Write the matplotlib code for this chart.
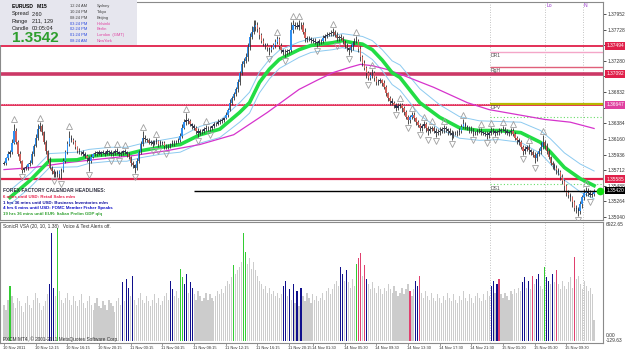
import matplotlib
matplotlib.use('Agg')
import matplotlib.pyplot as plt
from matplotlib import font_manager
from matplotlib.patches import Rectangle
import matplotlib.transforms as mtransforms
import numpy as np

# MT4 uses tiny narrow pixel fonts, take the narrow face when there is one
try:
    font_manager.findfont('Liberation Sans Narrow', fallback_to_default=False)
    NARROW = True
except ValueError:
    NARROW = False
FAM = ['Liberation Sans Narrow', 'Liberation Sans', 'DejaVu Sans'] if NARROW else ['Liberation Sans', 'DejaVu Sans']
plt.rcParams['font.family'] = FAM


def fs(size):
    return size / 0.82 if NARROW else size


# prices are stored in pips above 1.3500
BASE = 1.35
first_open = 80

close_pips = [
    82, 88, 94, 97, 110, 128, 112, 95, 84, 72,
    74, 76, 80, 82, 95, 106, 118, 130, 134, 126,
    112, 98, 86, 75, 70, 65, 68, 66, 70, 72,
    84, 97, 108, 118, 115, 111, 104, 99, 97, 97,
    95, 92, 88, 85, 90, 94, 96, 97, 95, 97,
    96, 95, 98, 97, 94, 96, 99, 97, 95, 96,
    98, 97, 94, 90, 82, 78, 75, 84, 97, 108,
    118, 116, 114, 110, 112, 109, 111, 113, 108, 111,
    110, 106, 104, 106, 108, 110, 111, 112, 114, 120,
    132, 140, 143, 141, 137, 134, 132, 128, 125, 127,
    128, 130, 132, 131, 132, 134, 137, 138, 140, 141,
    143, 146, 151, 158, 168, 174, 180, 188, 197, 210,
    223, 228, 233, 248, 262, 270, 276, 280, 273, 265,
    257, 252, 250, 246, 243, 247, 251, 255, 259, 250,
    243, 241, 240, 242, 243, 272, 280, 278, 276, 279,
    280, 270, 261, 259, 260, 258, 257, 255, 254, 256,
    257, 261, 264, 265, 266, 268, 269, 265, 261, 262,
    261, 256, 251, 246, 243, 248, 254, 256, 257, 245,
    233, 225, 218, 210, 204, 208, 211, 204, 197, 199,
    200, 196, 190, 182, 175, 171, 168, 164, 161, 163,
    165, 160, 154, 148, 143, 147, 151, 146, 140, 136,
    132, 134, 137, 132, 128, 130, 132, 128, 125, 126,
    128, 130, 132, 130, 128, 125, 122, 124, 125, 126,
    128, 133, 137, 134, 132, 130, 128, 126, 125, 127,
    128, 126, 125, 123, 122, 125, 128, 127, 125, 126,
    128, 129, 129, 127, 125, 126, 128, 123, 118, 114,
    111, 105, 99, 101, 104, 100, 97, 93, 89, 94,
    99, 105, 111, 106, 99, 90, 82, 78, 75, 71,
    68, 62, 56, 48, 39, 35, 32, 25, 17, 15,
    13, 22, 32, 38, 42, 39, 36, 37, 42,
]

up_wick = [
    3, 2, 4, 3, 6, 10, 3, 2, 3, 2,
    2, 3, 2, 4, 3, 2, 5, 8, 6, 3,
    2, 3, 2, 4, 2, 3, 2, 3, 2, 3,
    4, 3, 5, 10, 3, 2, 3, 2, 4, 2,
    3, 2, 2, 3, 4, 2, 3, 2, 3, 2,
    3, 2, 4, 2, 3, 2, 3, 4, 2, 3,
    2, 3, 2, 3, 2, 3, 2, 4, 3, 5,
    9, 3, 2, 4, 3, 2, 3, 4, 2, 3,
    2, 3, 2, 3, 2, 4, 3, 2, 3, 5,
    6, 5, 10, 3, 4, 2, 3, 2, 4, 3,
    2, 3, 4, 2, 3, 2, 3, 2, 4, 3,
    3, 2, 4, 3, 5, 3, 4, 3, 5, 4,
    5, 4, 6, 5, 6, 8, 10, 6, 4, 3,
    3, 4, 2, 3, 2, 4, 3, 5, 4, 3,
    3, 2, 4, 3, 2, 12, 6, 4, 5, 8,
    4, 3, 5, 3, 4, 2, 3, 4, 2, 3,
    3, 4, 3, 5, 3, 4, 6, 3, 4, 3,
    4, 3, 2, 3, 2, 4, 3, 5, 6, 3,
    4, 3, 4, 2, 3, 4, 5, 3, 2, 3,
    3, 2, 4, 3, 2, 3, 4, 2, 3, 4,
    3, 2, 3, 4, 2, 3, 4, 3, 2, 3,
    3, 4, 5, 3, 2, 4, 3, 2, 3, 4,
    5, 3, 4, 3, 2, 3, 4, 3, 2, 3,
    4, 5, 8, 3, 2, 3, 4, 3, 2, 3,
    3, 4, 2, 3, 4, 3, 5, 3, 2, 3,
    4, 3, 5, 4, 3, 2, 3, 4, 3, 2,
    3, 4, 2, 5, 3, 4, 2, 3, 4, 3,
    4, 6, 10, 3, 4, 3, 2, 3, 4, 3,
    3, 4, 3, 2, 3, 4, 3, 2, 3, 4,
    3, 5, 4, 6, 5, 3, 4, 3, 2,
]

dn_wick = [
    2, 3, 2, 4, 3, 2, 3, 4, 3, 5,
    3, 2, 4, 3, 2, 3, 2, 3, 2, 4,
    3, 4, 3, 2, 5, 4, 3, 4, 6, 12,
    3, 2, 3, 2, 4, 3, 2, 3, 2, 4,
    3, 4, 5, 15, 3, 2, 3, 4, 2, 3,
    2, 3, 2, 4, 3, 2, 3, 2, 4, 3,
    3, 2, 4, 3, 5, 4, 8, 3, 2, 3,
    2, 4, 3, 2, 3, 4, 2, 3, 4, 2,
    3, 4, 3, 2, 3, 2, 4, 3, 2, 3,
    3, 2, 4, 3, 2, 4, 3, 5, 6, 3,
    4, 3, 2, 3, 4, 3, 2, 3, 2, 3,
    2, 3, 2, 3, 2, 3, 2, 3, 4, 3,
    3, 4, 3, 5, 4, 3, 4, 5, 3, 6,
    4, 3, 5, 4, 7, 3, 2, 4, 3, 5,
    4, 5, 6, 3, 4, 3, 4, 5, 3, 4,
    5, 4, 6, 4, 3, 5, 4, 3, 6, 3,
    4, 3, 4, 3, 2, 3, 4, 3, 5, 4,
    3, 4, 5, 4, 6, 3, 4, 3, 2, 4,
    5, 4, 3, 6, 4, 3, 4, 5, 3, 4,
    3, 4, 3, 5, 4, 6, 4, 3, 5, 4,
    3, 5, 4, 3, 6, 4, 3, 5, 4, 3,
    5, 4, 3, 6, 7, 4, 3, 4, 6, 3,
    4, 3, 5, 4, 6, 3, 8, 4, 3, 5,
    4, 3, 2, 4, 3, 5, 4, 6, 3, 4,
    3, 5, 4, 3, 6, 4, 3, 4, 5, 3,
    4, 3, 2, 4, 3, 5, 4, 3, 4, 5,
    4, 3, 6, 4, 3, 5, 4, 3, 8, 4,
    3, 4, 3, 5, 4, 3, 4, 5, 4, 6,
    4, 5, 4, 6, 5, 4, 5, 6, 4, 5,
    7, 4, 5, 3, 4, 5, 4, 3, 3,
]

volume = [
    2100, 1800, 2400, 3200, 2600, 2200, 1900, 2500, 2300, 2000,
    1700, 2200, 2600, 2100, 1900, 2400, 2800, 2500, 2200, 1800,
    2000, 2300, 2700, 3300, 6300, 3100, 2600, 6600, 2900, 2400,
    2200, 2500, 2800, 2400, 2100, 2600, 2300, 2000, 2400, 2700,
    2200, 1900, 2300, 2600, 2100, 1800, 2200, 2500, 2000, 1900,
    2300, 2100, 1800, 2400, 2200, 2000, 1700, 2300, 2500, 2100,
    3400, 2300, 3600, 3100, 2600, 3800, 2400, 2100, 2500, 2800,
    2400, 2200, 2600, 2300, 2000, 2400, 2700, 2200, 2500, 2100,
    2300, 2600, 2800, 2400, 3500, 3000, 2600, 2900, 2500, 4200,
    3700, 3300, 3900, 2800, 3400, 3100, 2700, 2400, 2900, 2600,
    2300, 2500, 2800, 2400, 2700, 2500, 2300, 2600, 2900, 2700,
    3000, 2800, 3200, 3500, 3300, 3700, 4400, 3900, 4100, 4300,
    4600, 6300, 5200, 4500, 4800, 4200, 4600, 4100, 3800, 3500,
    3300, 3000, 3200, 2800, 3100, 2700, 2900, 2600, 2800, 2500,
    2700, 3200, 3500, 2600, 3000, 2400, 3300, 2200, 2900, 2000,
    3100, 2600, 2300, 2800, 2500, 2200, 2700, 2400, 2600, 2300,
    2500, 2800, 2400, 2900, 3100, 2700, 3000, 3300, 3500, 3200,
    4300, 3900, 3500, 4100, 3400, 3100, 3600, 3200, 4500, 4800,
    5100, 3800, 4400, 3600, 3300, 3000, 3400, 3100, 2800, 3200,
    3000, 2700, 3100, 2900, 3300, 3000, 2800, 3200, 2900, 2600,
    2800, 3100, 2700, 3000, 3300, 2900, 2600, 3000, 3500, 3200,
    3800, 2800, 2500, 2900, 2600, 2400, 2800, 2500, 2300, 2700,
    2500, 2200, 2600, 2400, 2800, 2500, 2300, 2700, 2400, 2200,
    2600, 2400, 2900, 2500, 2300, 2700, 2500, 2200, 2600, 2800,
    2500, 2300, 2700, 2400, 2900, 2600, 3200, 3500, 2800, 3300,
    3600, 2700, 2500, 2800, 2600, 2400, 2900, 2700, 3000, 2800,
    3100, 2900, 3400, 3700, 3100, 3500, 3000, 3800, 3300, 3600,
    3900, 3200, 3000, 4300, 3700, 3500, 3300, 3900, 3400, 4100,
    3300, 3000, 3500, 3200, 3000, 3400, 3700, 3100, 4900, 3600,
    3800, 3300, 3000, 3500, 3200, 2900, 3100, 2700, 1200,
]

vol_navy = [23, 24, 25, 60, 62, 63, 65, 84, 85, 91, 92, 94, 95, 141, 142, 144, 146, 148,
            150, 170, 171, 173, 183, 208, 209, 246, 247, 249, 262, 263, 265, 269, 270,
            274, 275, 277]
vol_green = [3, 27, 89, 90, 116, 121, 122, 178, 273]
vol_red = [179, 180, 182, 205, 210, 250, 267, 279, 288]

# green moving average with its two blue bands (bar index, pips)
ma_idx = [3, 13, 23, 37, 43, 54, 62, 69, 79, 89, 99, 109, 119, 124, 129, 134, 139, 144, 149,
          155, 160, 166, 171, 176, 181, 186, 191, 196, 200, 210, 220, 230, 240, 250, 261,
          271, 276, 283, 291, 298]
ma_green = [32, 56, 85, 86, 91, 94, 94, 99, 104, 108, 122, 130, 154, 168, 197, 216, 230, 237, 244,
            250, 252, 254, 257, 254, 252, 244, 229, 211, 204, 168, 147, 132, 128, 128, 125,
            111, 97, 75, 59, 49]
band_upper = [42, 66, 95, 97, 101, 104, 104, 109, 114, 119, 134, 142, 168, 183, 212, 230, 243, 249,
              255, 260, 262, 264, 267, 265, 263, 257, 244, 228, 222, 188, 165, 148, 142, 141,
              140, 128, 116, 96, 80, 70]
band_lower = [22, 46, 75, 76, 81, 84, 84, 89, 94, 97, 110, 118, 140, 153, 182, 202, 217, 225, 233,
              240, 242, 244, 247, 243, 240, 230, 214, 194, 186, 150, 130, 117, 114, 115, 111,
              95, 80, 57, 40, 30]
# slow magenta average
slow_idx = [0, 15, 32, 48, 65, 82, 99, 116, 133, 149, 158, 166, 175, 180, 186, 193, 200, 217,
            234, 245, 261, 273, 286, 298]
ma_slow = [72, 75, 82, 87, 92, 99, 108, 122, 154, 187, 200, 211, 219, 223, 221, 216, 209, 190,
           168, 158, 150, 144, 140, 131]

level_prices = [1.37494, 1.37092, 1.36647, 1.35585]
level_labels = ['1.37494', '1.37092', '1.36647', '1.35585']
pivot_prices = [1.37407, 1.37192, 1.36661, 1.35499]
pivot_names = ['DR1', 'RgH', 'DPV', 'DS1']
green_dotted = [1.36475, 1.35520]
last_price = 1.3542
last_label = '1.35420'

price_ticks = [1.35040, 1.35264, 1.35488, 1.35712, 1.35936, 1.36160, 1.36384,
               1.36608, 1.36832, 1.37056, 1.37280, 1.37504, 1.37728, 1.37952]
time_idx = [0, 16, 32, 48, 64, 80, 96, 112, 128, 144, 156, 172, 188, 204, 220, 236, 252, 268, 284]
time_labels = ['10 Nov 2011', '10 Nov 12:15', '10 Nov 16:15', '10 Nov 20:15', '11 Nov 00:15',
               '11 Nov 04:15', '11 Nov 08:15', '11 Nov 12:15', '11 Nov 16:15', '11 Nov 20:15',
               '14 Nov 01:30', '14 Nov 05:30', '14 Nov 09:30', '14 Nov 13:30', '14 Nov 17:30',
               '14 Nov 21:30', '15 Nov 01:30', '15 Nov 05:30', '15 Nov 09:30']
session_idx = [245.5, 273.2, 292.4]

clock_times = ['12:24 AM', '10:24 PM', '08:24 PM', '03:24 PM', '02:24 PM', '01:24 PM', '08:24 AM']
clock_cities = ['Sydney', 'Tokyo', 'Beijing', 'Helsinki', 'Berlin', 'London  (GMT)', 'NewYork']
headlines = ['6 mins until USD: Retail Sales m/m',
             '1 hrs 36 mins until USD: Business Inventories m/m',
             '4 hrs 6 mins until USD: FOMC Member Fisher Speaks',
             '19 hrs 36 mins until EUR: Italian Prelim GDP q/q']
headline_colors = ['#e8204a', '#1010a0', '#1010c8', '#30a030']

W, H = 625, 352


def fx(px):
    return px / W


def fy(py):
    return 1 - py / H


fig = plt.figure(figsize=(W / 100, H / 100), dpi=100)
fig.patch.set_facecolor('white')

ax = fig.add_axes([0, fy(220), fx(603), 218 / H])
axv = fig.add_axes([0, fy(343), fx(603), 121 / H])

n = len(close_pips)
x = np.arange(n)
close = BASE + np.array(close_pips) / 1e4
opn = BASE + np.array([first_open] + close_pips[:-1]) / 1e4
high = np.maximum(opn, close) + np.array(up_wick) / 1e4
low = np.minimum(opn, close) - np.array(dn_wick) / 1e4

xlim = (-2.02, 302.5)
for a in (ax, axv):
    a.set_xlim(*xlim)
    a.set_xticks([])
    for s in a.spines.values():
        s.set_color('#8a8a8a')
        s.set_linewidth(0.8)
ax.set_ylim(1.34997, 1.38124)

# horizontal levels, full width
ax.axhline(level_prices[0], color='#e0204a', lw=1.3, zorder=1)
ax.axhline(level_prices[1], color='#cc3866', lw=2.6, zorder=1)
ax.axhline(level_prices[2], color='#e0204a', lw=1.3, zorder=1)
ax.axhline(level_prices[2] + 0.00010, color='#f090b0', lw=0.8, ls=(0, (1, 1)), zorder=1)
ax.axhline(level_prices[3], color='#e0204a', lw=1.6, zorder=1)

# pivot lines on the last session
p0 = session_idx[0]
ax.hlines(pivot_prices[0], p0, xlim[1], color='#f4a6c8', lw=1.0, zorder=1)
ax.hlines(pivot_prices[1], p0, xlim[1], color='#e0607a', lw=1.0, zorder=1)
ax.hlines(pivot_prices[2], p0, xlim[1], color='#b8b800', lw=1.6, zorder=1)
for p in green_dotted:
    ax.hlines(p, p0, xlim[1], color='#66dd66', lw=0.8, ls=(0, (1, 2)), zorder=1)
for name, p in zip(pivot_names, pivot_prices):
    ax.text(p0 + 0.5, p - 0.00012, name, fontsize=fs(3.6), color='#505050', va='top', ha='left')

for xi in session_idx:
    ax.axvline(xi, color='#b0b0b0', lw=0.6, ls=(0, (1, 2)), zorder=0)
    axv.axvline(xi, color='#b0b0b0', lw=0.6, ls=(0, (1, 2)), zorder=0)
ax.text(session_idx[1] + 1, 1.3807, 'Lo', fontsize=fs(3.6), color='#9933cc', va='center')
ax.text(session_idx[2] + 0.5, 1.3807, 'N', fontsize=fs(3.6), color='#9933cc', va='center')

# averages
ax.plot(ma_idx, BASE + np.array(band_upper) / 1e4, color='#8ccaf0', lw=0.7, zorder=2)
ax.plot(ma_idx, BASE + np.array(band_lower) / 1e4, color='#8ccaf0', lw=0.7, zorder=2)
ax.plot(slow_idx, BASE + np.array(ma_slow) / 1e4, color='#d633cc', lw=0.9, zorder=2)
ax.plot(ma_idx, BASE + np.array(ma_green) / 1e4, color='#22dd44', lw=2.6, zorder=2)

# candles
body = close - opn
colors = np.where(np.abs(body) < 0.00035, '#2e3450', np.where(body > 0, '#2f8ff0', '#d0605a'))
ax.vlines(x, low, high, color='#303030', lw=0.6, zorder=3)
ax.bar(x, np.where(np.abs(body) < 0.00005, 0.00005, np.abs(body)), bottom=np.minimum(opn, close),
       width=0.75, color=colors, linewidth=0, zorder=4)

# fractals
up_f = [i for i in range(2, n - 2) if high[i] > max(high[i - 2], high[i - 1], high[i + 1], high[i + 2])]
dn_f = [i for i in range(2, n - 2) if low[i] < min(low[i - 2], low[i - 1], low[i + 1], low[i + 2])]
ax.plot(up_f, high[up_f] + 0.0006, ls='none', marker='^', ms=3.8, mfc='none', mec='#a0a0a0', mew=0.6, zorder=5)
ax.plot(dn_f, low[dn_f] - 0.0006, ls='none', marker='v', ms=3.8, mfc='none', mec='#a0a0a0', mew=0.6, zorder=5)

# last price
ax.hlines(last_price, 96, xlim[1], color='black', lw=1.0, zorder=5)
ax.plot([301], [last_price], 'o', color='#11dd11', ms=4.5, zorder=6, clip_on=False)

# price axis, labels hidden under the level boxes are left blank
box_prices = level_prices + [last_price]
ax.yaxis.tick_right()
ax.set_yticks(price_ticks)
ax.set_yticklabels(['' if min(abs(t - b) for b in box_prices) < 0.0004 else '%.5f' % t
                    for t in price_ticks])
ax.tick_params(axis='y', labelsize=fs(3.5), length=2, width=0.6, pad=1.2, colors='#333333')
tr = mtransforms.blended_transform_factory(ax.transAxes, ax.transData)
box_colors = ['#e0204a', '#e0204a', '#e040a0', '#e0204a']
for p, lab, c in zip(level_prices, level_labels, box_colors):
    ax.text(1.006, p, lab, transform=tr, fontsize=fs(3.5), color='white', va='center', ha='left',
            bbox=dict(facecolor=c, edgecolor='none', pad=0.9), clip_on=False, zorder=10)
ax.text(1.006, last_price, last_label, transform=tr, fontsize=fs(3.5), color='white', va='center',
        ha='left', bbox=dict(facecolor='black', edgecolor='none', pad=0.9), clip_on=False, zorder=10)

# volume panel
vcol = ['#cccccc'] * n
for i in vol_navy:
    vcol[i] = '#10108c'
for i in vol_green:
    vcol[i] = '#33cc33'
for i in vol_red:
    vcol[i] = '#e0406e'
axv.bar(x, volume, width=0.6, color=vcol, linewidth=0)
axv.set_ylim(-129.63, 6922.65)
axv.set_yticks([])
fig.text(fx(606), fy(224), '6922.65', fontsize=fs(3.5), color='#333333', va='center')
fig.text(fx(606), fy(335.5), '0.00', fontsize=fs(3.5), color='#333333', va='center')
fig.text(fx(606), fy(340.5), '-129.63', fontsize=fs(3.5), color='#333333', va='center')
fig.text(fx(3), fy(226.5), 'SonicR VSA (20, 10, 1.38)   Voice & Text Alerts off.', fontsize=fs(3.4),
         color='#303030', va='center')
fig.text(fx(3), fy(339.5), 'PXCM MT4, \u00a9 2001-2011 MetaQuotes Software Corp.', fontsize=fs(3.4),
         color='#303030', va='center')

for i, lab in zip(time_idx, time_labels):
    px = 4 + 1.98 * i
    fig.text(fx(px - 1), fy(348), lab, fontsize=fs(2.9), color='#333333', va='center', ha='left')
    fig.add_artist(plt.Line2D([fx(px), fx(px)], [fy(343), fy(345)], color='#8a8a8a', lw=0.6))

# headlines
fig.text(fx(3), fy(190), 'FOREX FACTORY CALENDAR HEADLINES:', fontsize=fs(3.5), fontweight='bold',
         color='#303040', va='center')
for k, (t, c) in enumerate(zip(headlines, headline_colors)):
    fig.text(fx(3), fy(196.7 + 5.85 * k), t, fontsize=fs(3.2), fontweight='bold', color=c, va='center')

# info box
fig.add_artist(Rectangle((0, fy(45)), fx(137), 45 / H, transform=fig.transFigure,
                         facecolor='#e6e6ee', edgecolor='none', zorder=20))
fig.text(fx(12), fy(6), 'EURUSD   M15', fontsize=fs(3.6), fontweight='bold', color='black', va='center', zorder=21)
for k, (lab, val) in enumerate([('Spread', '2.60'), ('Range', '211, 129'), ('Candle', '00:05:04')]):
    fig.text(fx(12), fy(14 + 7 * k), lab, fontsize=fs(4.0), color='#202020', va='center', zorder=21)
    fig.text(fx(32), fy(14 + 7 * k), val, fontsize=fs(4.0), color='#202020', va='center', zorder=21)
fig.text(fx(12), fy(38.5), '1.3542', fontsize=11, fontweight='bold', color='#2e9e2e', va='center',
         family=['Liberation Sans', 'DejaVu Sans'], zorder=21)
for k, (t, c) in enumerate(zip(clock_times, clock_cities)):
    tc = '#404040' if k < 3 else '#2a4ae0'
    cc = '#404040' if k < 3 else '#e040a0'
    yy = fy(6 + 5.85 * k)
    fig.text(fx(70), yy, t, fontsize=fs(2.9), color=tc, va='center', zorder=21)
    fig.text(fx(97), yy, c, fontsize=fs(2.9), color=cc, va='center', zorder=21)

fig.savefig('out.png', dpi=100)
